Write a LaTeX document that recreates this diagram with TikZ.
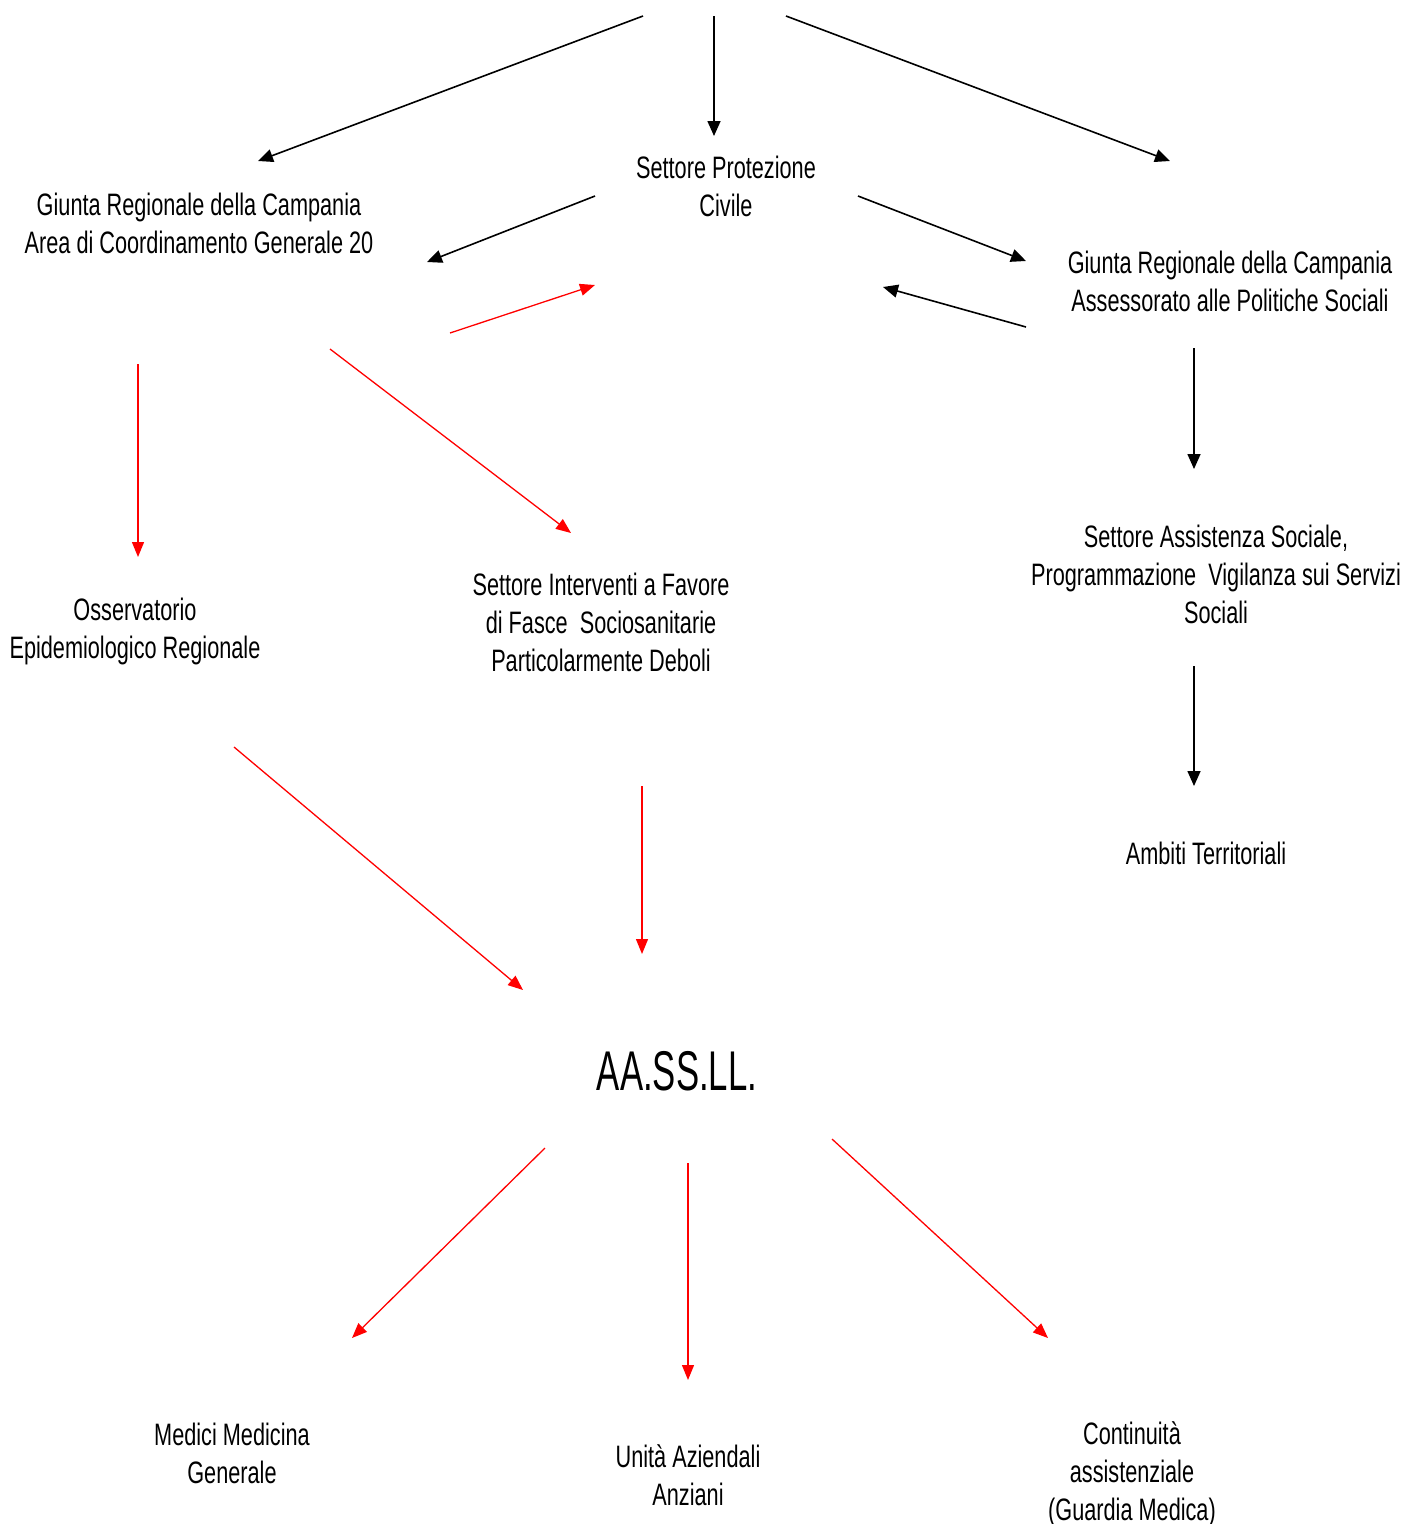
\documentclass[tikz,border=0pt]{standalone}
\usepackage{fontspec}
\setmainfont{Liberation Sans}[FakeStretch=0.70]
\newfontfamily\aslfont{Liberation Sans}[FakeStretch=0.62]
\usetikzlibrary{arrows.meta}
\begin{document}
\begin{tikzpicture}[x=1pt,y=-1pt,
  lbl/.style={align=center,inner sep=0pt,font=\fontsize{31}{38}\selectfont},
  blk/.style={draw=black,line width=1.6pt,-{Triangle[length=15pt,width=13pt]}},
  rdl/.style={draw=red,line width=1.3pt,-{Triangle[length=15pt,width=12pt]}}]
\useasboundingbox (0,0) rectangle (1412,1524);
% texts
\node[lbl] (prot) at (726,186) {Settore Protezione\\Civile};
\node[lbl] (giunta1) at (199,223) {Giunta Regionale della Campania\\Area di Coordinamento Generale 20};
\node[lbl] (giunta2) at (1230,281) {Giunta Regionale della Campania\\Assessorato alle Politiche Sociali};
\node[lbl] (assist) at (1216,574) {Settore Assistenza Sociale,\\Programmazione\ \ Vigilanza sui Servizi\\Sociali};
\node[lbl] (ambiti) at (1206,853) {Ambiti Territoriali};
\node[lbl] (oss) at (135,631) {Osservatorio\\Epidemiologico Regionale};
\node[lbl] (interv) at (601,622) {Settore Interventi a Favore\\di Fasce\ \ Sociosanitarie\\Particolarmente Deboli};
\node[align=center,inner sep=0pt,font=\aslfont\fontsize{56}{60}\selectfont] (asl) at (677,1071) {AA.SS.LL.};
\node[lbl] (medici) at (232,1453) {Medici Medicina\\Generale};
\node[lbl] (unita) at (688,1475) {Unità Aziendali\\Anziani};
\node[lbl] (cont) at (1132,1474) {Continuità\\assistenziale\\(Guardia Medica)};
% arrow endpoints
\coordinate (a1s) at (643,16);  \coordinate (a1e) at (258,161);
\coordinate (a2s) at (714,16);  \coordinate (a2e) at (714,136);
\coordinate (a3s) at (786,16);  \coordinate (a3e) at (1170,161);
\coordinate (a4s) at (595,196); \coordinate (a4e) at (427,262);
\coordinate (a5s) at (858,196); \coordinate (a5e) at (1026,261);
\coordinate (a6s) at (1026,327);\coordinate (a6e) at (883,287);
\coordinate (a7s) at (1194,348);\coordinate (a7e) at (1194,469);
\coordinate (a8s) at (1194,666);\coordinate (a8e) at (1194,786);
\coordinate (r1s) at (450,333); \coordinate (r1e) at (595,285);
\coordinate (r2s) at (138,364); \coordinate (r2e) at (138,557);
\coordinate (r3s) at (330,349); \coordinate (r3e) at (571,533);
\coordinate (r4s) at (234,747); \coordinate (r4e) at (523,990);
\coordinate (r5s) at (642,786); \coordinate (r5e) at (642,954);
\coordinate (r6s) at (545,1148);\coordinate (r6e) at (352,1338);
\coordinate (r7s) at (688,1163);\coordinate (r7e) at (688,1380);
\coordinate (r8s) at (832,1139);\coordinate (r8e) at (1048,1338);
% black arrows
\draw[blk] (a1s) -- (a1e);
\draw[blk] (a2s) -- (a2e);
\draw[blk] (a3s) -- (a3e);
\draw[blk] (a4s) -- (a4e);
\draw[blk] (a5s) -- (a5e);
\draw[blk] (a6s) -- (a6e);
\draw[blk] (a7s) -- (a7e);
\draw[blk] (a8s) -- (a8e);
% red arrows
\draw[rdl] (r1s) -- (r1e);
\draw[rdl] (r2s) -- (r2e);
\draw[rdl] (r3s) -- (r3e);
\draw[rdl] (r4s) -- (r4e);
\draw[rdl] (r5s) -- (r5e);
\draw[rdl] (r6s) -- (r6e);
\draw[rdl] (r7s) -- (r7e);
\draw[rdl] (r8s) -- (r8e);
\end{tikzpicture}
\end{document}
